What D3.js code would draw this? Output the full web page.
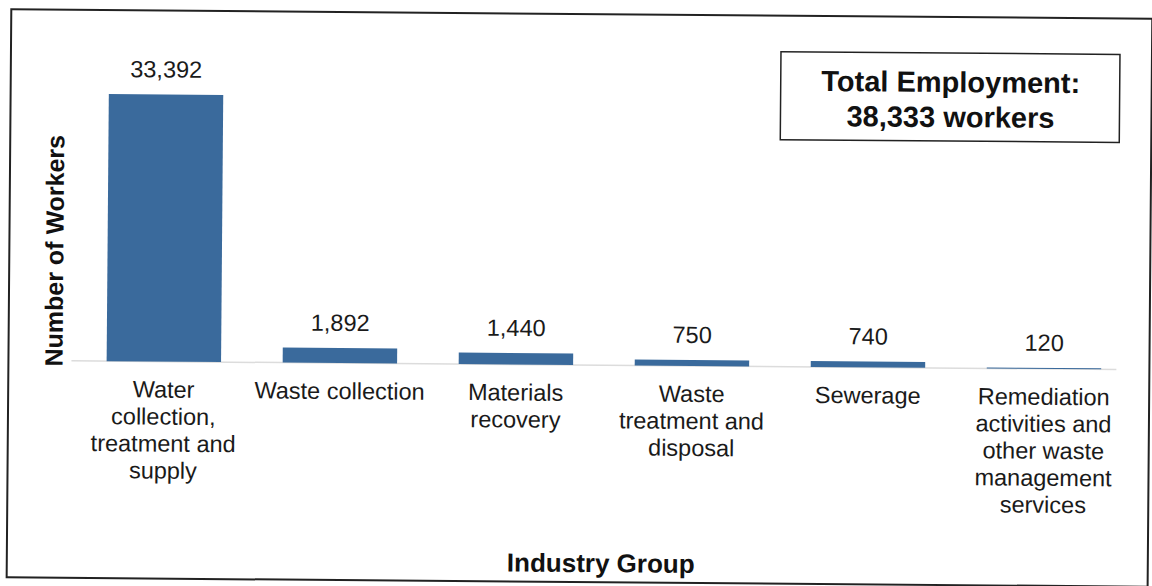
<!DOCTYPE html>
<html>
<head>
<meta charset="utf-8">
<script src="https://cdn.jsdelivr.net/npm/d3@7"></script>
<style>
  body { margin: 0; background: #fff; }
  svg { font-family: "Liberation Sans", Arial, sans-serif; }
</style>
</head>
<body>
<div id="chart"></div>
<script>
// categories and values
var categories = [
    ["Water", "collection,", "treatment and", "supply"],
    ["Waste collection"],
    ["Materials", "recovery"],
    ["Waste", "treatment and", "disposal"],
    ["Sewerage"],
    ["Remediation", "activities and", "other waste", "management", "services"]
];
var workers = [33392, 1892, 1440, 750, 740, 120];
var totalLines = ["Total Employment:", "38,333 workers"];

var W = 1152, H = 586;
var margin = {top: 85, right: 15, bottom: 221, left: 72},
    width = W - margin.left - margin.right,
    height = H - margin.top - margin.bottom;

var svg = d3.select("#chart").append("svg")
    .attr("width", W)
    .attr("height", H);

// the scan is slightly tilted
var root = svg.append("g")
    .attr("transform", "rotate(0.47," + (W / 2) + "," + (H / 2) + ")");

// outer frame
root.append("rect")
    .attr("x", 9).attr("y", 14)
    .attr("width", 1141).attr("height", 568)
    .attr("fill", "none")
    .attr("stroke", "#222")
    .attr("stroke-width", 2);

var g = root.append("g")
    .attr("transform", "translate(" + margin.left + "," + margin.top + ")");

var idx = d3.range(workers.length);

var x = d3.scaleBand()
    .domain(idx)
    .range([0, width])
    .paddingInner(0.35)
    .paddingOuter(0.2);

var y = d3.scaleLinear()
    .domain([0, 35000])
    .range([height, 0]);

// baseline
g.append("line")
    .attr("x1", 0).attr("x2", width - 20)
    .attr("y1", height).attr("y2", height)
    .attr("stroke", "#dcdcdc")
    .attr("stroke-width", 1.5);

// bars
g.selectAll(".bar")
    .data(idx)
    .enter().append("rect")
    .attr("class", "bar")
    .attr("x", function(i) { return x(i); })
    .attr("width", x.bandwidth())
    .attr("y", function(i) { return y(workers[i]); })
    .attr("height", function(i) { return Math.max(1, height - y(workers[i])); })
    .attr("fill", "#3a6a9c");

// value labels
var fmt = d3.format(",");
g.selectAll(".val")
    .data(idx)
    .enter().append("text")
    .attr("class", "val")
    .attr("x", function(i) { return x(i) + x.bandwidth() / 2; })
    .attr("y", function(i) { return y(workers[i]) - 17; })
    .attr("text-anchor", "middle")
    .attr("font-size", 23.5)
    .attr("fill", "#1a1a1a")
    .text(function(i) { return fmt(workers[i]); });

// category labels
var cat = g.selectAll(".cat")
    .data(idx)
    .enter().append("text")
    .attr("class", "cat")
    .attr("text-anchor", "middle")
    .attr("font-size", 23.5)
    .attr("fill", "#1a1a1a")
    .attr("transform", function(i) {
        return "translate(" + (x(i) + x.bandwidth() / 2) + "," + (height + 36) + ")";
    });
cat.selectAll("tspan")
    .data(function(i) { return categories[i]; })
    .enter().append("tspan")
    .attr("x", 0)
    .attr("y", function(d, j) { return j * 27; })
    .text(function(d) { return d; });

// axis titles
root.append("text")
    .attr("transform", "translate(63,255) rotate(-90)")
    .attr("text-anchor", "middle")
    .attr("font-size", 25)
    .attr("font-weight", "bold")
    .attr("fill", "#111")
    .text("Number of Workers");

g.append("text")
    .attr("x", 603 - margin.left)
    .attr("y", height + 207)
    .attr("text-anchor", "middle")
    .attr("font-size", 26)
    .attr("font-weight", "bold")
    .attr("fill", "#111")
    .text("Industry Group");

// total employment box
var box = root.append("g").attr("transform", "translate(779,50)");
box.append("rect")
    .attr("width", 339).attr("height", 88)
    .attr("fill", "#fff")
    .attr("stroke", "#222")
    .attr("stroke-width", 1.5);
box.selectAll("text")
    .data(totalLines)
    .enter().append("text")
    .attr("x", 170)
    .attr("y", function(d, j) { return 39 + j * 35; })
    .attr("text-anchor", "middle")
    .attr("font-size", 29)
    .attr("font-weight", "bold")
    .attr("fill", "#111")
    .text(function(d) { return d; });
</script>
</body>
</html>
